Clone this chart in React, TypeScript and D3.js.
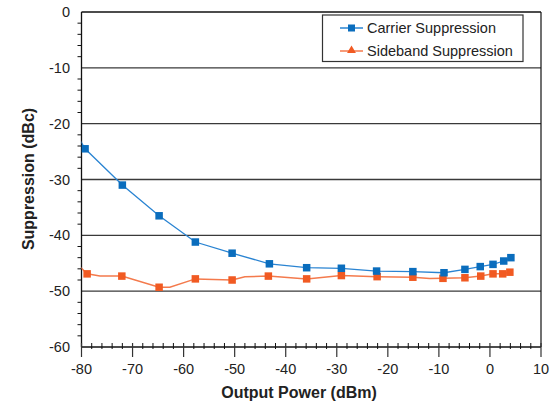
import React, { useEffect, useRef } from 'react';
import * as d3 from 'd3';

// carrier suppression, every point has a marker (first one sits left of the axis and gets clipped)
const carrierPower = [-81.2, -79.3, -72.0, -64.8, -57.7, -50.5, -43.2, -35.9, -29.1, -22.2, -15.1, -9.0, -4.9, -1.9, 0.6, 2.7, 4.1];
const carrierDbc = [-21.5, -24.5, -31.0, -36.5, -41.2, -43.2, -45.1, -45.8, -45.9, -46.4, -46.5, -46.7, -46.1, -45.6, -45.2, -44.6, -44.0];

// sideband suppression, some line vertices have no marker
const sidebandPower = [-81.2, -78.9, -76.4, -72.1, -64.8, -62.7, -57.7, -50.5, -48.0, -43.4, -35.9, -29.1, -22.1, -15.1, -11.8, -9.2, -4.9, -1.8, 0.6, 2.5, 3.9];
const sidebandDbc = [-44.8, -46.9, -47.3, -47.3, -49.3, -49.3, -47.8, -48.0, -47.4, -47.3, -47.8, -47.2, -47.4, -47.5, -47.75, -47.7, -47.6, -47.3, -46.9, -46.9, -46.6];
const sidebandMarked = [1, 1, 0, 1, 1, 0, 1, 1, 0, 1, 1, 1, 1, 1, 0, 1, 1, 1, 1, 1, 1];

const xTicks = [-80, -70, -60, -50, -40, -30, -20, -10, 0, 10];
const yTicks = [0, -10, -20, -30, -40, -50, -60];
const seriesNames = ['Carrier Suppression', 'Sideband Suppression'];

const blue = '#0a6dbd';
const blueLine = '#2a84d2';
const orange = '#f15a22';
const orangeLine = '#f47a4c';
const font = "'Liberation Sans', Arial, Helvetica, sans-serif";

function App() {
  const ref = useRef<SVGSVGElement>(null);

  useEffect(() => {
    const svg = d3.select(ref.current);
    svg.selectAll('*').remove();

    const x = d3.scaleLinear().domain([-80, 10]).range([81.5, 541]);
    const y = d3.scaleLinear().domain([-60, 0]).range([347, 12]);

    svg.append('defs').append('clipPath').attr('id', 'plot')
      .append('rect')
      .attr('x', x(-80)).attr('y', y(0))
      .attr('width', x(10) - x(-80)).attr('height', y(-60) - y(0));

    // grid lines
    svg.append('g').selectAll('line')
      .data(yTicks.filter(t => t > -60))
      .enter().append('line')
      .attr('x1', x(-80)).attr('x2', x(10))
      .attr('y1', d => y(d)).attr('y2', d => y(d))
      .attr('stroke', d => d === 0 ? '#111' : '#3a3a3a')
      .attr('stroke-width', 1.3);

    // right border
    svg.append('line')
      .attr('x1', x(10)).attr('x2', x(10))
      .attr('y1', y(0)).attr('y2', y(-60))
      .attr('stroke', '#111').attr('stroke-width', 1.2);

    // axes
    svg.append('line')
      .attr('x1', x(-80)).attr('x2', x(-80))
      .attr('y1', y(0)).attr('y2', y(-60))
      .attr('stroke', '#111').attr('stroke-width', 1.3);
    svg.append('line')
      .attr('x1', x(-80)).attr('x2', x(10))
      .attr('y1', y(-60)).attr('y2', y(-60))
      .attr('stroke', '#111').attr('stroke-width', 1.3);

    // y minor ticks
    const yMinor = d3.range(-58, 0, 2).filter(v => v % 10 !== 0);
    svg.append('g').selectAll('line')
      .data(yMinor).enter().append('line')
      .attr('x1', x(-80) - 4).attr('x2', x(-80))
      .attr('y1', d => y(d)).attr('y2', d => y(d))
      .attr('stroke', '#111').attr('stroke-width', 1);

    // x ticks: minor cross the axis, major stick out below
    const xMinor = d3.range(-78, 10, 2).filter(v => v % 10 !== 0);
    svg.append('g').selectAll('line')
      .data(xMinor).enter().append('line')
      .attr('x1', d => x(d)).attr('x2', d => x(d))
      .attr('y1', y(-60) - 4).attr('y2', y(-60) + 2)
      .attr('stroke', '#111').attr('stroke-width', 1);
    svg.append('g').selectAll('line')
      .data(xTicks).enter().append('line')
      .attr('x1', d => x(d)).attr('x2', d => x(d))
      .attr('y1', y(-60) - 4).attr('y2', y(-60) + 10)
      .attr('stroke', '#333').attr('stroke-width', 1.2);

    // tick labels
    svg.append('g').selectAll('text')
      .data(yTicks).enter().append('text')
      .attr('x', 70).attr('y', d => y(d))
      .attr('text-anchor', 'end').attr('dominant-baseline', 'central')
      .attr('font-family', font).attr('font-size', 14.5).attr('fill', '#222')
      .text(d => d);
    svg.append('g').selectAll('text')
      .data(xTicks).enter().append('text')
      .attr('x', d => x(d)).attr('y', 368.5)
      .attr('text-anchor', 'middle').attr('dominant-baseline', 'central')
      .attr('font-family', font).attr('font-size', 14.5).attr('fill', '#222')
      .text(d => d);

    // axis titles
    svg.append('text')
      .attr('x', 299).attr('y', 392)
      .attr('text-anchor', 'middle').attr('dominant-baseline', 'central')
      .attr('font-family', font).attr('font-size', 16).attr('font-weight', 'bold').attr('fill', '#222')
      .text('Output Power (dBm)');
    svg.append('text')
      .attr('transform', 'translate(28,179) rotate(-90)')
      .attr('text-anchor', 'middle').attr('dominant-baseline', 'central')
      .attr('font-family', font).attr('font-size', 16).attr('font-weight', 'bold').attr('fill', '#222')
      .text('Suppression (dBc)');

    // series
    const line = d3.line<[number, number]>()
      .x(d => x(d[0]))
      .y(d => y(d[1]));

    const plot = svg.append('g').attr('clip-path', 'url(#plot)');

    const sideband = sidebandPower.map((p, i) => [p, sidebandDbc[i]] as [number, number]);
    const carrier = carrierPower.map((p, i) => [p, carrierDbc[i]] as [number, number]);

    plot.append('path')
      .attr('d', line(sideband))
      .attr('fill', 'none').attr('stroke', orangeLine).attr('stroke-width', 1.5);
    plot.append('path')
      .attr('d', line(carrier))
      .attr('fill', 'none').attr('stroke', blueLine).attr('stroke-width', 1.3);

    const m = 7.5;
    plot.append('g').selectAll('rect')
      .data(sideband.filter((d, i) => sidebandMarked[i]))
      .enter().append('rect')
      .attr('x', d => x(d[0]) - m / 2).attr('y', d => y(d[1]) - m / 2)
      .attr('width', m).attr('height', m)
      .attr('fill', orange);
    plot.append('g').selectAll('rect')
      .data(carrier)
      .enter().append('rect')
      .attr('x', d => x(d[0]) - m / 2).attr('y', d => y(d[1]) - m / 2)
      .attr('width', m).attr('height', m)
      .attr('fill', blue);

    // legend
    const lg = svg.append('g');
    lg.append('rect')
      .attr('x', 322.5).attr('y', 15).attr('width', 200.5).attr('height', 46.5)
      .attr('fill', '#fff').attr('stroke', '#333').attr('stroke-width', 1.2);
    const rows = [
      { name: seriesNames[0], c: blue, lc: blueLine, yy: 28 },
      { name: seriesNames[1], c: orange, lc: orangeLine, yy: 51 },
    ];
    rows.forEach((r, i) => {
      lg.append('line')
        .attr('x1', 340).attr('x2', 363).attr('y1', r.yy).attr('y2', r.yy)
        .attr('stroke', r.lc).attr('stroke-width', 1.5);
      if (i === 0) {
        lg.append('rect')
          .attr('x', 351.5 - 3.5).attr('y', r.yy - 3.5).attr('width', 7).attr('height', 7)
          .attr('fill', r.c);
      } else {
        lg.append('path')
          .attr('d', d3.symbol().type(d3.symbolTriangle).size(34)())
          .attr('transform', `translate(351.5,${r.yy - 0.5})`)
          .attr('fill', r.c);
      }
      lg.append('text')
        .attr('x', 367).attr('y', r.yy)
        .attr('dominant-baseline', 'central')
        .attr('font-family', font).attr('font-size', 14.5).attr('fill', '#222')
        .text(r.name);
    });
  }, []);

  return (
    <svg ref={ref} width={553} height={406}
      style={{ position: 'absolute', left: 0, top: 0, background: '#fff' }} />
  );
}

export default App;
